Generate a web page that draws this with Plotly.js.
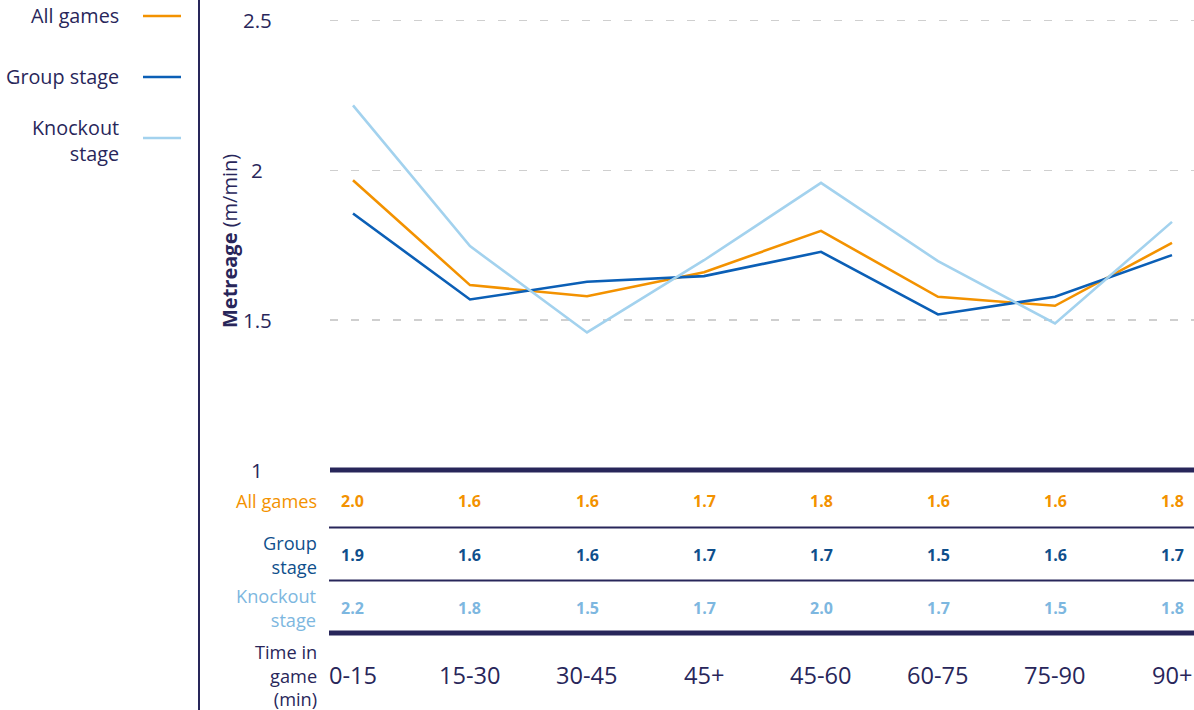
<!DOCTYPE html>
<html>
<head>
<meta charset="utf-8">
<script src="https://cdn.plot.ly/plotly-3.0.1.min.js"></script>
<style>html,body{margin:0;padding:0;background:#fff;}#chart{width:1194px;height:710px;}</style>
</head>
<body>
<div id="chart"></div>
<script>
// ---- data ----
const categories = ["0-15", "15-30", "30-45", "45+", "45-60", "60-75", "75-90", "90+"];
const allGames   = [1.967, 1.617, 1.58, 1.66, 1.798, 1.578, 1.548, 1.758];
const groupStage = [1.856, 1.569, 1.628, 1.647, 1.728, 1.519, 1.578, 1.717];
const knockout   = [2.217, 1.747, 1.459, 1.70, 1.958, 1.697, 1.489, 1.828];
const tableAll      = ["2.0", "1.6", "1.6", "1.7", "1.8", "1.6", "1.6", "1.8"];
const tableGroup    = ["1.9", "1.6", "1.6", "1.7", "1.7", "1.5", "1.6", "1.7"];
const tableKnockout = ["2.2", "1.8", "1.5", "1.7", "2.0", "1.7", "1.5", "1.8"];
const seriesNames = ["All games", "Group stage", "Knockout<br>stage"];
const rowLabels = ["All games", "Group<br>stage", "Knockout<br>stage"];
const yTickVals = [1, 1.5, 2, 2.5];
const yTickText = ["1", "1.5", "2", "2.5"];
const yTitle = "<b>Metreage</b> (m/min)";
const xTitle = "Time in<br>game<br>(min)";

// ---- style ----
const W = 1194, H = 710;
const NAVY = "#28265a";
const COLORS = ["#f39200", "#0b5fb6", "#a3d2ee"];
const TABLE_COLORS = ["#f39200", "#0f4f8c", "#7db7e0"];
const FONT = "'Open Sans', 'Noto Sans', sans-serif";
const px = x => x / W;
const py = y => 1 - y / H;

const traces = [allGames, groupStage, knockout].map((vals, i) => ({
  type: "scatter", mode: "lines", x: categories, y: vals,
  name: seriesNames[i], line: {color: COLORS[i], width: 2.6}, hoverinfo: "skip"
}));

const annotations = [];
const shapes = [];

// legend
const legY = [16, 77, 138];
const legTextY = [16, 77, 141];
seriesNames.forEach((n, i) => {
  annotations.push({xref: "paper", yref: "paper", x: px(121), y: py(legTextY[i]), xanchor: "right", yanchor: "middle",
    text: n, showarrow: false, align: "right", font: {family: FONT, size: 19.8, color: NAVY}});
  shapes.push({type: "line", xref: "paper", yref: "paper", x0: px(143), x1: px(181), y0: py(legY[i]), y1: py(legY[i]),
    line: {color: COLORS[i], width: 2.5}});
});
// left divider
shapes.push({type: "line", xref: "paper", yref: "paper", x0: px(199), x1: px(199), y0: 0, y1: 1, line: {color: NAVY, width: 2}});

// y tick labels
yTickVals.forEach((v, i) => {
  annotations.push({xref: "paper", yref: "y", x: px(257), y: v, xanchor: "center", yanchor: "middle",
    text: yTickText[i], showarrow: false, font: {family: FONT, size: 20.5, color: NAVY}});
});
// y title
annotations.push({xref: "paper", yref: "paper", x: px(229), y: py(241), xanchor: "center", yanchor: "middle",
  text: yTitle, textangle: -90, showarrow: false, font: {family: FONT, size: 20, color: NAVY}});

// axis base line at y=1
shapes.push({type: "line", xref: "paper", yref: "paper", x0: px(330), x1: 1, y0: py(470), y1: py(470), line: {color: NAVY, width: 5}});
// table lines
shapes.push({type: "line", xref: "paper", yref: "paper", x0: px(329), x1: 1, y0: py(527.5), y1: py(527.5), line: {color: NAVY, width: 2}});
shapes.push({type: "line", xref: "paper", yref: "paper", x0: px(329), x1: 1, y0: py(580.5), y1: py(580.5), line: {color: NAVY, width: 2}});
shapes.push({type: "line", xref: "paper", yref: "paper", x0: px(329), x1: 1, y0: py(633), y1: py(633), line: {color: NAVY, width: 5}});

// table rows
const rowY = [501, 555, 608];
const tables = [tableAll, tableGroup, tableKnockout];
rowLabels.forEach((lab, r) => {
  annotations.push({xref: "paper", yref: "paper", x: px(319), y: py(rowY[r]), xanchor: "right", yanchor: "middle",
    text: lab, showarrow: false, align: "right", font: {family: FONT, size: 18.2, color: TABLE_COLORS[r]}});
  tables[r].forEach((t, c) => {
    annotations.push({xref: "x", yref: "paper", x: c, y: py(rowY[r]), xanchor: "center", yanchor: "middle",
      text: "<b>" + t + "</b>", showarrow: false, font: {family: FONT, size: 16, color: TABLE_COLORS[r]}});
  });
});
// x categories
annotations.push({xref: "paper", yref: "paper", x: px(319), y: py(675), xanchor: "right", yanchor: "middle",
  text: xTitle, showarrow: false, align: "right", font: {family: FONT, size: 18.2, color: NAVY}});
categories.forEach((c, i) => {
  annotations.push({xref: "x", yref: "paper", x: i, y: py(675), xanchor: "center", yanchor: "middle",
    text: c, showarrow: false, font: {family: FONT, size: 23.6, color: NAVY}});
});

const layout = {
  width: W, height: H,
  margin: {l: 0, r: 0, t: 0, b: 0, pad: 0},
  paper_bgcolor: "#fff", plot_bgcolor: "#fff",
  showlegend: false,
  xaxis: {type: "category", domain: [px(330), 1], range: [-0.1966, 7.188], showticklabels: false,
    showgrid: false, zeroline: false, showline: false, ticks: "", fixedrange: true},
  yaxis: {domain: [py(470), py(19)], range: [1, 2.505], tickvals: [1.5, 2, 2.5], showticklabels: false,
    showgrid: true, gridcolor: "#cfcfcf", gridwidth: 1.5, griddash: "8px,13px", zeroline: false, showline: false, ticks: "", fixedrange: true},
  shapes: shapes,
  annotations: annotations
};

Plotly.newPlot("chart", traces, layout, {displayModeBar: false, staticPlot: true});
</script>
</body>
</html>
